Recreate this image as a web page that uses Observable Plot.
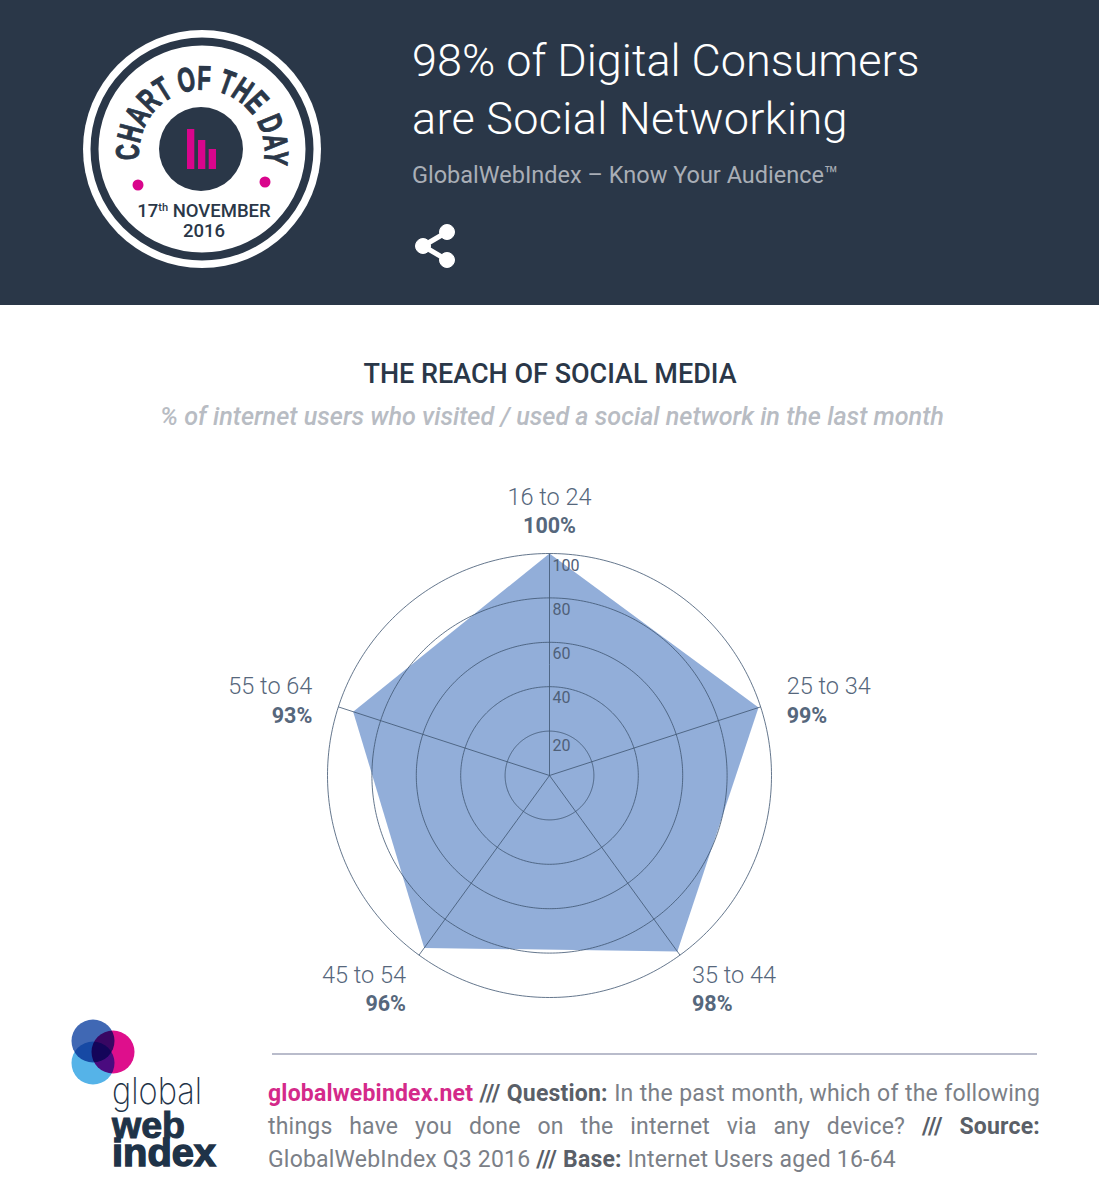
<!DOCTYPE html>
<html><head><meta charset="utf-8">
<script src="https://cdn.jsdelivr.net/npm/d3@7"></script>
<script src="https://cdn.jsdelivr.net/npm/@observablehq/plot@0.6"></script>
<style>
html,body{margin:0;padding:0;background:#fff}
#page{position:relative;width:1099px;height:1200px;overflow:hidden;font-family:Roboto,sans-serif}
#page>*{position:absolute}
#hdr{left:0;top:0;width:1099px;height:305px;background:#2a3748}
.t{white-space:nowrap;line-height:1}
#chart{left:0;top:430px}
#foot{left:268px;top:1077px;width:772px;font:23px/33px Roboto,sans-serif;color:#7b7f87;letter-spacing:.2px}
#foot div{text-align:justify;text-align-last:justify;white-space:nowrap}
#foot div:last-child{text-align-last:left}
#foot b{color:#5a5f68;font-weight:700}
#foot a{color:#d42a8a;font-weight:700;text-decoration:none}
</style></head><body>
<div id="page">
<div id="hdr"></div>
<svg style="left:0;top:0" width="500" height="305" viewBox="0 0 500 305">
<circle cx="202" cy="149" r="119" fill="#fff"/>
<circle cx="202" cy="149" r="107.5" fill="none" stroke="#2a3748" stroke-width="8"/>
<circle cx="201" cy="149" r="42" fill="#2a3748"/>
<g fill="#d9058c"><rect x="187" y="129" width="7.3" height="40"/><rect x="198" y="140" width="7.3" height="29"/><rect x="208.7" y="149" width="7.3" height="20"/>
<circle cx="138" cy="185" r="5.5"/><circle cx="265" cy="182" r="5.5"/></g>
<path id="arc" d="M140 160 A62.5 62.5 0 1 1 264 160" fill="none"/>
<text font-family="'Liberation Sans'" font-weight="700" font-size="34" fill="#2a3748" stroke="#2a3748" stroke-width="1"><textPath href="#arc" textLength="216" lengthAdjust="spacingAndGlyphs">CHART OF THE DAY</textPath></text>
<text x="204" y="217" text-anchor="middle" font-family="Roboto" font-weight="500" font-size="18.5" fill="#2a3748">17<tspan font-size="11" dy="-6">th</tspan><tspan dy="6"> NOVEMBER</tspan></text>
<text x="204" y="237" text-anchor="middle" font-family="Roboto" font-weight="500" font-size="18.5" fill="#2a3748">2016</text>
<g fill="#fff" stroke="#fff"><line x1="423" y1="246" x2="447" y2="232" stroke-width="5"/><line x1="423" y1="246" x2="447" y2="260" stroke-width="5"/><circle cx="423" cy="246" r="7.5"/><circle cx="447" cy="232" r="7.5"/><circle cx="447" cy="260" r="7.5"/></g>
</svg>
<div class="t" style="left:412px;top:38px;font-size:45px;font-weight:300;color:#fff">98% of Digital Consumers</div>
<div class="t" style="left:412px;top:96px;font-size:45px;font-weight:300;color:#fff;letter-spacing:.3px">are Social Networking</div>
<div class="t" style="left:412px;top:164px;font-size:23.5px;color:#a9aeb6">GlobalWebIndex – Know Your Audience™</div>
<div class="t" style="left:0;width:1100px;text-align:center;top:361px;font-size:27px;font-weight:500;color:#2a3748">THE REACH OF SOCIAL MEDIA</div>
<div class="t" style="left:0;width:1104px;text-align:center;top:404px;font-size:25.2px;font-style:italic;font-weight:500;color:#b8bcc3">% of internet users who visited / used a social network in the last month</div>
<div id="chart"></div>
<svg style="left:60px;top:1010px" width="170" height="170" viewBox="60 1010 170 170">
<g style="isolation:isolate"><circle cx="93" cy="1063" r="21.5" fill="#55b3e8"/><circle cx="93" cy="1041" r="21.5" fill="#4068b4" style="mix-blend-mode:multiply"/><circle cx="113" cy="1052" r="21.5" fill="#de0f8c" style="mix-blend-mode:multiply"/></g>
<text x="112" y="1104" font-family="Inter" font-weight="200" font-size="37" textLength="90" lengthAdjust="spacingAndGlyphs" fill="#1f3348">global</text>
<text x="112" y="1138" font-family="Liberation Sans" font-weight="700" font-size="36" textLength="73" lengthAdjust="spacingAndGlyphs" stroke="#1f3348" fill="#1f3348">web</text>
<text x="112" y="1166" font-family="Liberation Sans" font-weight="700" font-size="38" textLength="104" lengthAdjust="spacingAndGlyphs" stroke="#1f3348" stroke-width="1.4" fill="#1f3348">index</text>
</svg>
<div style="left:272px;top:1053px;width:765px;height:2px;background:#b9bccb"></div>
<div id="foot">
<div><a>globalwebindex.net</a> <b>///</b> <b>Question:</b> In the past month, which of the following</div>
<div>things have you done on the internet via any device? <b>///</b> <b>Source:</b></div>
<div>GlobalWebIndex Q3 2016 <b>///</b> <b>Base:</b> Internet Users aged 16-64</div>
</div>
</div>
<script>
const ageGroups = ["16 to 24","25 to 34","35 to 44","45 to 54","55 to 64"];
const reach = [100,99,98,96,93];
const ringTicks = [20,40,60,80,100];

// Polar layout: one spoke per group clockwise from the top; a value v sits v degrees from the pole.
const lon = i => 180 - 360 * i / ageGroups.length;
const lat = v => 90 - v;
const rows = ageGroups.map((group,i) => ({group, value: reach[i], i}));
const labelFont = {fontFamily:"Roboto, sans-serif", fill:"#56677c"};
const labelPlacement = [
  {dx:0, dy:-56, textAnchor:"middle"},
  {dx:26, dy:-20, textAnchor:"start"},
  {dx:12, dy:20, textAnchor:"start"},
  {dx:-13, dy:20, textAnchor:"end"},
  {dx:-26, dy:-20, textAnchor:"end"}
];
const labelMarks = rows.flatMap((d,i) => {
  const p = labelPlacement[i];
  const at = {x: () => lon(i), y: () => lat(ringTicks[4])};
  return [
    Plot.text([d], {...at, ...labelFont, text:"group", fontSize:23.5, fontWeight:300, dx:p.dx, dy:p.dy, textAnchor:p.textAnchor}),
    Plot.text([d], {...at, ...labelFont, text: r => r.value + "%", fontSize:21.5, fontWeight:700, dx:p.dx, dy:p.dy+29, textAnchor:p.textAnchor})
  ];
});
const tickNudge = {20:15, 40:11, 60:12, 80:12, 100:12};

const svg = Plot.plot({
  width:1099, height:620,
  marginLeft:327, marginRight:328, marginTop:123, marginBottom:53,
  projection:{type:"azimuthal-equidistant", rotate:[0,-90], domain:d3.geoCircle().center([0,90]).radius(ringTicks[4])()},
  marks:[
    Plot.line(rows, {x:d => lon(d.i), y:d => lat(d.value), curve:"linear-closed", fill:"#92aed9", stroke:"none"}),
    Plot.geo(ringTicks, {geometry:t => d3.geoCircle().center([0,90]).radius(t).precision(1)(), stroke:"#3f5570", strokeOpacity:.8, strokeWidth:1, fill:"none"}),
    Plot.link(rows, {x1:d => lon(d.i), y1:()=>90, x2:d => lon(d.i), y2:()=>lat(ringTicks[4]), stroke:"#3f5570", strokeOpacity:.8, strokeWidth:1}),
    ...ringTicks.map(t => Plot.text([t], {x:()=>lon(0), y:v => lat(v), text:v => String(v), dx:3, dy:tickNudge[t], textAnchor:"start", fontSize:16, fontFamily:"Roboto, sans-serif", fill:"#4f6078"})),
    ...labelMarks
  ]
});
document.getElementById("chart").appendChild(svg);
</script>
</body></html>
